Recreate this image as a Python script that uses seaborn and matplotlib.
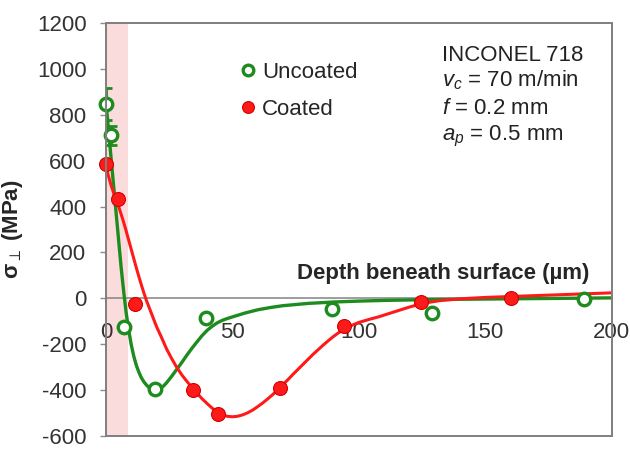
import numpy as np
import pandas as pd
import matplotlib
matplotlib.use("Agg")
import matplotlib.pyplot as plt
import seaborn as sns
from matplotlib.patches import Rectangle

# measured points (depth in um, stress in MPa)
unc_depth = [0, 2, 7, 19.5, 39.5, 89.5, 129, 189]
unc_stress = [845, 710, -125, -395, -85, -45, -65, -2]
unc_err_depth = [0, 2]
unc_err_stress = [845, 710]
unc_err = [70, 40]

coat_depth = [0, 5, 11.5, 34.5, 44.5, 69, 94, 124.5, 160]
coat_stress = [585, 432, -26, -400, -502, -392, -122, -15, 3]

# fitted trend lines
unc_fit_x = [0, 1, 2, 3, 4, 5, 6, 7, 8, 9, 10, 11, 12, 13, 14, 15, 16, 17, 18,
             19, 20, 21, 22, 23, 24, 26, 28, 30, 32, 34, 36, 38, 40, 42, 44, 46,
             48, 50, 55, 60, 65, 70, 80, 90, 100, 110, 120, 140, 160, 180, 200]
unc_fit_y = [860, 740, 620, 500, 380, 260, 140, 35, -60, -135, -200, -250,
             -290, -320, -345, -363, -377, -388, -396, -400, -400, -396, -389,
             -380, -368, -340, -310, -280, -248, -218, -190, -163, -140, -122,
             -107, -96, -88, -81, -64, -50, -40, -32, -22, -16, -12, -9, -7,
             -4, -2, 0, 2]

coat_fit_x = [0, 1, 2, 3, 4, 5, 6, 7, 8, 9, 10, 11, 12, 13, 14, 15, 16, 18, 20,
              22, 24, 26, 28, 30, 32, 34, 36, 38, 40, 42, 44, 46, 48, 50, 52,
              54, 56, 58, 60, 62, 64, 66, 68, 70, 72, 74, 76, 78, 80, 82, 84,
              86, 88, 90, 92, 94, 96, 98, 100, 104, 108, 112, 116, 120, 124,
              128, 132, 140, 150, 160, 170, 180, 190, 200]
coat_fit_y = [575, 535, 495, 462, 432, 402, 368, 333, 295, 255, 215, 175, 135,
              97, 60, 25, -8, -65, -122, -170, -220, -262, -300, -333, -361,
              -388, -413, -437, -458, -478, -495, -507, -514, -516, -514, -508,
              -499, -487, -472, -456, -438, -419, -398, -376, -354, -331, -309,
              -287, -265, -243, -223, -203, -184, -166, -150, -136, -124, -114,
              -105, -92, -80, -66, -52, -38, -26, -17, -10, -2, 4, 8, 12, 16,
              20, 24]

coated_zone = (0, 8.7)

green = "#1E8B1E"
red = "#FF1A1A"

sns.set_theme(style="white")
plt.rcParams["font.family"] = ["Liberation Sans", "DejaVu Sans"]
plt.rcParams["mathtext.fontset"] = "custom"
plt.rcParams["mathtext.rm"] = "Liberation Sans"
plt.rcParams["mathtext.it"] = "Liberation Sans:italic"
plt.rcParams["mathtext.bf"] = "Liberation Sans:bold"
plt.rcParams["axes.unicode_minus"] = False

fig = plt.figure(figsize=(6.3, 4.5), dpi=100)
ax = fig.add_axes([0.168, 0.031, 0.803, 0.918])

ax.axvspan(*coated_zone, color="#FBDCDC", zorder=0, lw=0)

sns.lineplot(x=unc_fit_x, y=unc_fit_y, ax=ax, color=green, lw=2.4, sort=False, zorder=3)
sns.lineplot(x=coat_fit_x, y=coat_fit_y, ax=ax, color=red, lw=2.2, sort=False, zorder=3)

ax.errorbar(unc_err_depth, unc_err_stress, yerr=unc_err, fmt="none",
            ecolor=green, elinewidth=2, capsize=4, capthick=2, zorder=4)

ax.plot(unc_depth, unc_stress, "o", ms=9, mfc="white", mec=green, mew=2.4,
        zorder=5, label="Uncoated", clip_on=False)
ax.plot(coat_depth, coat_stress, "o", ms=10, mfc=red, mec="#D00000", mew=0.8,
        zorder=5, label="Coated", clip_on=False)

ax.set_xlim(0, 200)
ax.set_ylim(-600, 1200)
ax.set_xticks([0, 50, 100, 150, 200])
ax.set_yticks(np.arange(-600, 1201, 200))

for s in ["top", "right", "left"]:
    ax.spines[s].set_visible(False)
ax.spines["bottom"].set_position(("data", 0))
ax.spines["bottom"].set_color("#8C8C8C")
ax.spines["bottom"].set_linewidth(1.2)
ax.add_patch(Rectangle((0, 0), 1, 1, transform=ax.transAxes, fill=False,
                       ec="#7F7F7F", lw=1.4, clip_on=False, zorder=6))

ax.tick_params(axis="x", direction="out", length=4, width=1, color="#8C8C8C",
               pad=13, labelsize=16, labelcolor="#333333")
ax.tick_params(axis="y", direction="out", length=4, width=1, color="#8C8C8C",
               pad=10, labelsize=16, labelcolor="#333333", left=True)

ax.set_xlabel("Depth beneath surface (µm)", fontsize=16, fontweight="bold")
ax.xaxis.set_label_coords(0.666, 0.393)
ax.xaxis.label.set_va("center")
ax.set_ylabel(r"σ$_{\perp}$ (MPa)", fontsize=16, fontweight="bold")
ax.yaxis.set_label_coords(-0.16, 0.5)

ax.legend(loc="upper left", bbox_to_anchor=(0.227, 0.955), frameon=False,
          fontsize=16, handlelength=0.7, handletextpad=0.25, labelspacing=0.73,
          markerscale=0.85)

info = ["INCONEL 718", r"$v_c$ = 70 m/min", r"$f$ = 0.2 mm", r"$a_p$ = 0.5 mm"]
info_y = [0.907, 0.846, 0.779, 0.715]
for t, yy in zip(info, info_y):
    ax.text(0.664, yy, t, transform=ax.transAxes, fontsize=16, va="baseline",
            ha="left", color="#222222")

fig.savefig("out.png", dpi=100)
